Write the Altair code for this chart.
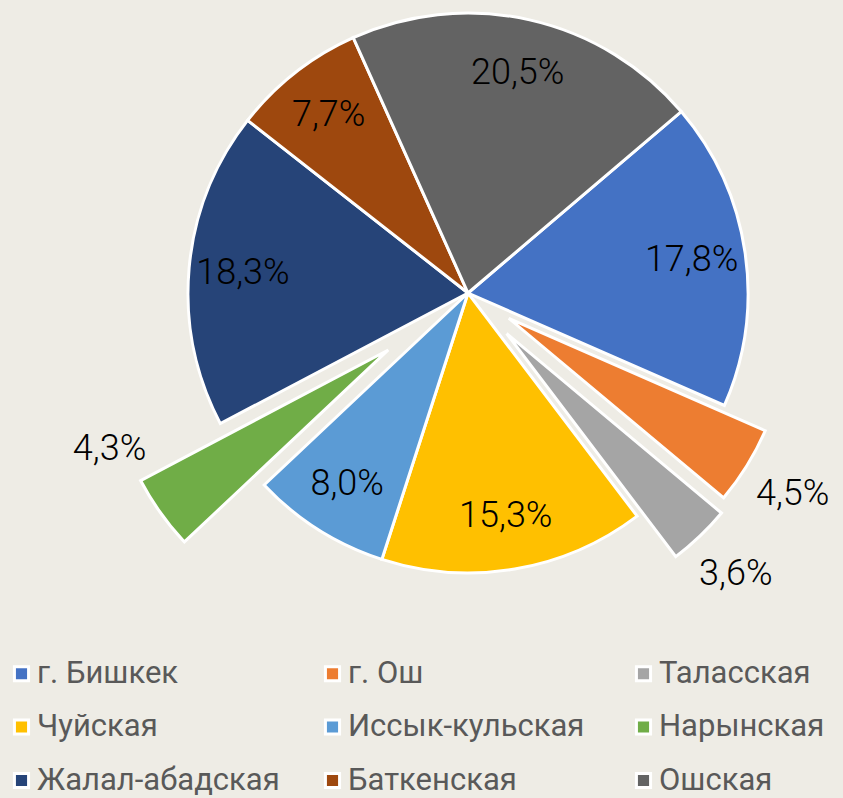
import altair as alt
import pandas as pd

# ---- data ----
regions = ["г. Бишкек", "г. Ош", "Таласская", "Чуйская", "Иссык-кульская",
           "Нарынская", "Жалал-абадская", "Баткенская", "Ошская"]
shares = [17.8, 4.5, 3.6, 15.3, 8.0, 4.3, 18.3, 7.7, 20.5]
labels = ["17,8%", "4,5%", "3,6%", "15,3%", "8,0%", "4,3%", "18,3%", "7,7%", "20,5%"]
colors = ["#4472C4", "#ED7D31", "#A5A5A5", "#FFC000", "#5B9BD5",
          "#70AD47", "#264478", "#9E480E", "#636363"]

# ---- styling ----
CX, CY, R = 468, 293, 280
START_DEG = 49.6
EXPLODE = {"г. Ош": 48, "Таласская": 56, "Нарынская": 98}
LABEL_R = {"г. Ош": 382, "Таласская": 388, "Нарынская": 391}
LABEL_SHIFT = {"Нарынская": 12}
INNER_LABEL_R = 226
BG = "#EEECE5"

df = pd.DataFrame({"region": regions, "share": shares, "label": labels,
                   "order": list(range(len(regions)))})
df["explode"] = [EXPLODE.get(r, 0) for r in regions]
df["lr"] = [LABEL_R.get(r, INNER_LABEL_R) for r in regions]
df["lshift"] = [LABEL_SHIFT.get(r, 0) for r in regions]

start = f"({START_DEG}*PI/180)"

base = (
    alt.Chart(df)
    .transform_joinaggregate(total="sum(share)")
    .transform_window(cum="sum(share)", sort=[alt.SortField("order")], frame=[None, 0])
    .transform_calculate(t0=f"{start} + 2*PI*(datum.cum - datum.share)/datum.total")
    .transform_calculate(t1=f"{start} + 2*PI*datum.cum/datum.total")
    .transform_calculate(mid="(datum.t0 + datum.t1)/2")
    .transform_calculate(cx=f"{CX} + datum.explode*sin(datum.mid)")
    .transform_calculate(cy=f"{CY} - datum.explode*cos(datum.mid)")
    .transform_calculate(la="datum.mid + datum.lshift*PI/180")
    .transform_calculate(lx=f"{CX} + datum.lr*sin(datum.la)")
    .transform_calculate(ly=f"{CY} - datum.lr*cos(datum.la)")
)

arcs = base.mark_arc(radius=R, stroke="white", strokeWidth=3).encode(
    x=alt.X("cx:Q", scale=None, axis=None),
    y=alt.Y("cy:Q", scale=None, axis=None),
    theta=alt.Theta("t0:Q", scale=None, stack=None),
    theta2="t1:Q",
    color=alt.Color(
        "region:N",
        scale=alt.Scale(domain=regions, range=colors),
        sort=regions,
        legend=alt.Legend(
            title=None, orient="none", legendX=6, legendY=658,
            columns=3, direction="horizontal", gridAlign="all",
            symbolType="square", symbolSize=200,
            symbolStrokeColor="white", symbolStrokeWidth=3,
            labelFont="Roboto", labelFontSize=31,
            labelColor="#595959", labelOffset=0, columnPadding=37,
            rowPadding=21.5, labelLimit=400,
        ),
    ),
)

texts = base.mark_text(font="Roboto", fontSize=36, fontWeight=300, color="black",
                       align="center", baseline="middle").encode(
    x=alt.X("lx:Q", scale=None, axis=None),
    y=alt.Y("ly:Q", scale=None, axis=None),
    text="label:N",
)

chart = (
    alt.layer(arcs, texts)
    .properties(width=843, height=798, padding=0, autosize="none", background=BG)
    .configure_view(stroke=None)
)

chart.save("out.html", embed_options={"renderer": "svg", "actions": False})
